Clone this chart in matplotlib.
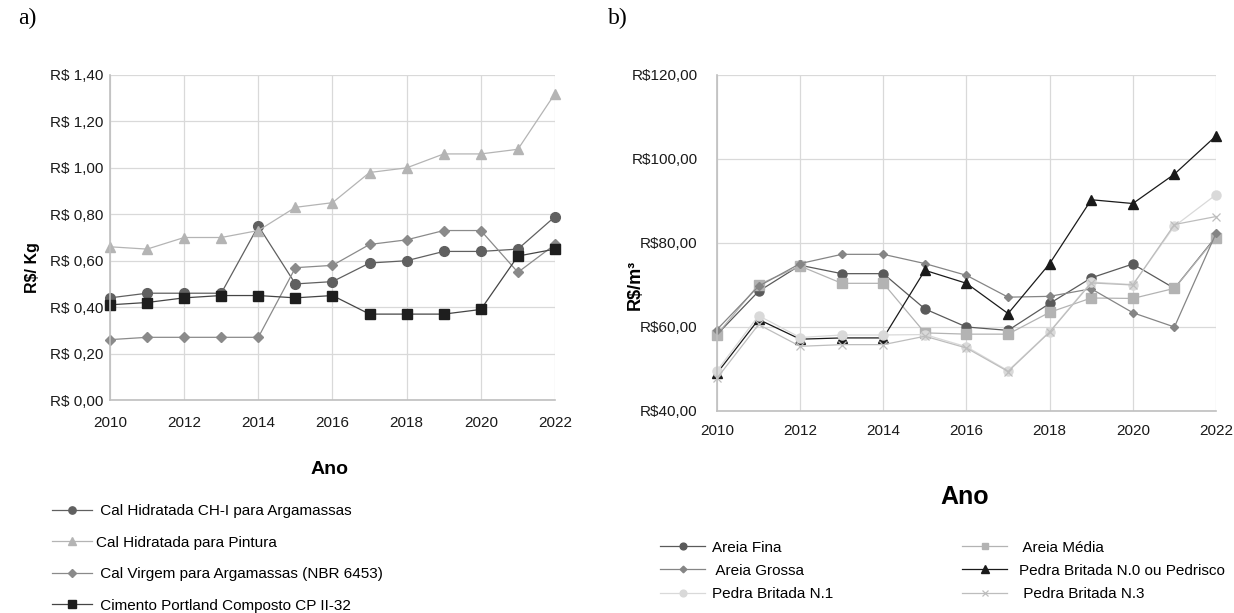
import matplotlib
matplotlib.use("Agg")
import matplotlib.pyplot as plt
from matplotlib.ticker import FuncFormatter, MultipleLocator

# ---- data -------------------------------------------------------------
years = list(range(2010, 2023))

# a) binders, R$/kg
cal_ch1 = [0.44, 0.46, 0.46, 0.46, 0.75, 0.50, 0.51, 0.59, 0.60, 0.64, 0.64, 0.65, 0.79]
cal_pintura = [0.66, 0.65, 0.70, 0.70, 0.73, 0.83, 0.85, 0.98, 1.00, 1.06, 1.06, 1.08, 1.32]
cal_virgem = [0.26, 0.27, 0.27, 0.27, 0.27, 0.57, 0.58, 0.67, 0.69, 0.73, 0.73, 0.55, 0.67]
cimento = [0.41, 0.42, 0.44, 0.45, 0.45, 0.44, 0.45, 0.37, 0.37, 0.37, 0.39, 0.62, 0.65]

labels_a = [" Cal Hidratada CH-I para Argamassas", "Cal Hidratada para Pintura",
            " Cal Virgem para Argamassas (NBR 6453)", " Cimento Portland Composto CP II-32"]

# b) aggregates, R$/m3
areia_fina = [58.2, 68.5, 74.7, 72.7, 72.7, 64.3, 60.0, 59.2, 65.6, 71.7, 75.0, 69.2, 81.5]
areia_media = [58.2, 70.1, 74.5, 70.4, 70.4, 58.6, 58.3, 58.3, 63.5, 66.9, 66.8, 69.2, 81.3]
areia_grossa = [59.4, 69.7, 75.1, 77.3, 77.3, 75.1, 72.3, 67.1, 67.3, 69.1, 63.4, 60.0, 82.3]
pedra_n0 = [49.0, 61.8, 57.1, 57.4, 57.4, 73.5, 70.4, 63.2, 75.1, 90.3, 89.4, 96.4, 105.5]
pedra_n1 = [49.6, 62.7, 57.5, 58.1, 58.1, 58.2, 55.3, 49.6, 58.9, 70.7, 70.1, 84.0, 91.5]
pedra_n3 = [47.8, 60.6, 55.4, 55.8, 55.8, 57.8, 55.0, 49.4, 58.8, 70.5, 70.0, 84.4, 86.3]

labels_b = ["Areia Fina", " Areia Média", " Areia Grossa",
            "Pedra Britada N.0 ou Pedrisco", "Pedra Britada N.1", " Pedra Britada N.3"]

# ---- style ------------------------------------------------------------
SANS = ["Liberation Sans", "DejaVu Sans"]
SERIF = ["Liberation Serif", "DejaVu Serif"]
plt.rcParams["font.family"] = SANS
FS = 11

GRID = "#d9d9d9"
SPINE = "#bfbfbf"
W, H = 1234, 613

fig = plt.figure(figsize=(W / 100, H / 100), dpi=100)


def px_rect(left, top, right, bottom):
    return [left / W, 1 - bottom / H, (right - left) / W, (bottom - top) / H]


def style_axes(ax, ymin, ymax, ystep, fmt, xpad, ypad):
    ax.set_xlim(2010, 2022)
    ax.set_ylim(ymin, ymax)
    ax.xaxis.set_major_locator(MultipleLocator(2))
    ax.yaxis.set_major_locator(MultipleLocator(ystep))
    ax.yaxis.set_major_formatter(FuncFormatter(fmt))
    ax.grid(True, color=GRID, linewidth=0.9)
    ax.set_axisbelow(True)
    for side in ("top", "right"):
        ax.spines[side].set_visible(False)
    for side in ("left", "bottom"):
        ax.spines[side].set_color(SPINE)
        ax.spines[side].set_linewidth(1.2)
    ax.tick_params(length=0, labelsize=FS, colors="#1a1a1a")
    ax.tick_params(axis="x", pad=xpad)
    ax.tick_params(axis="y", pad=ypad)


# ---- a) ---------------------------------------------------------------
ax1 = fig.add_axes(px_rect(110, 75, 555, 400))
style_axes(ax1, 0, 1.4, 0.2, lambda v, p: "R$ " + f"{v:.2f}".replace(".", ","), 11.5, 5)

ha = []
ha += ax1.plot(years, cal_ch1, color="#606060", lw=0.9, marker="o", ms=7, label=labels_a[0])
ha += ax1.plot(years, cal_pintura, color="#b4b4b4", lw=0.9, marker="^", ms=7.5, label=labels_a[1])
ha += ax1.plot(years, cal_virgem, color="#8a8a8a", lw=0.9, marker="D", ms=5, label=labels_a[2])
ha += ax1.plot(years, cimento, color="#454545", lw=0.9, marker="s", ms=7.5,
               mfc="#1e1e1e", mec="#1e1e1e", label=labels_a[3])
for h in ha:
    h.set_clip_on(False)

fig.text(33 / W, 1 - 268 / H, "R$/ Kg", fontweight="bold", fontsize=11.5,
         rotation=90, ha="center", va="center")
fig.text(330 / W, 1 - 470 / H, "Ano", fontweight="bold", fontsize=14,
         ha="center", va="center")

fig.legend(handles=ha, loc="upper left", bbox_to_anchor=(46 / W, 1 - 498 / H),
           frameon=False, fontsize=FS, handlelength=2.6, handletextpad=0.3,
           labelspacing=1.15, borderaxespad=0, markerscale=0.75)

# ---- b) ---------------------------------------------------------------
ax2 = fig.add_axes(px_rect(717, 75, 1216, 411))
style_axes(ax2, 40, 120, 20, lambda v, p: "R$" + f"{v:.2f}".replace(".", ","), 9.5, 14)

hb = []
hb += ax2.plot(years, areia_fina, color="#5a5a5a", lw=0.9, marker="o", ms=6.5, label=labels_b[0])
hb += ax2.plot(years, areia_media, color="#b3b3b3", lw=0.9, marker="s", ms=6.5, label=labels_b[1])
hb += ax2.plot(years, areia_grossa, color="#858585", lw=0.9, marker="D", ms=4.5, label=labels_b[2])
hb += ax2.plot(years, pedra_n0, color="#1a1a1a", lw=0.9, marker="^", ms=7, label=labels_b[3])
hb += ax2.plot(years, pedra_n1, color="#d9d9d9", lw=0.9, marker="o", ms=6.5, label=labels_b[4])
hb += ax2.plot(years, pedra_n3, color="#bdbdbd", lw=0.9, marker="x", ms=6, mew=0.9, label=labels_b[5])
for h in hb:
    h.set_clip_on(False)

fig.text(635 / W, 1 - 285 / H, "R$/m³", fontweight="bold", fontsize=13,
         rotation=90, ha="center", va="center")
fig.text(965 / W, 1 - 497 / H, "Ano", fontweight="bold", fontsize=18,
         ha="center", va="center")

legend_kw = dict(loc="upper left", frameon=False, fontsize=FS, handlelength=2.95,
                 labelspacing=0.6, borderaxespad=0, markerscale=0.75)
fig.legend(handles=[hb[0], hb[2], hb[4]], bbox_to_anchor=(654 / W, 1 - 534.5 / H),
           handletextpad=0.45, **legend_kw)
fig.legend(handles=[hb[1], hb[3], hb[5]], bbox_to_anchor=(956 / W, 1 - 534.5 / H),
           handletextpad=0.8, **legend_kw)

# panel letters
fig.text(18 / W, 1 - 18 / H, "a)", family=SERIF, fontsize=17, ha="left", va="center")
fig.text(608 / W, 1 - 18 / H, "b)", family=SERIF, fontsize=17, ha="left", va="center")

fig.savefig("out.png", dpi=100)
